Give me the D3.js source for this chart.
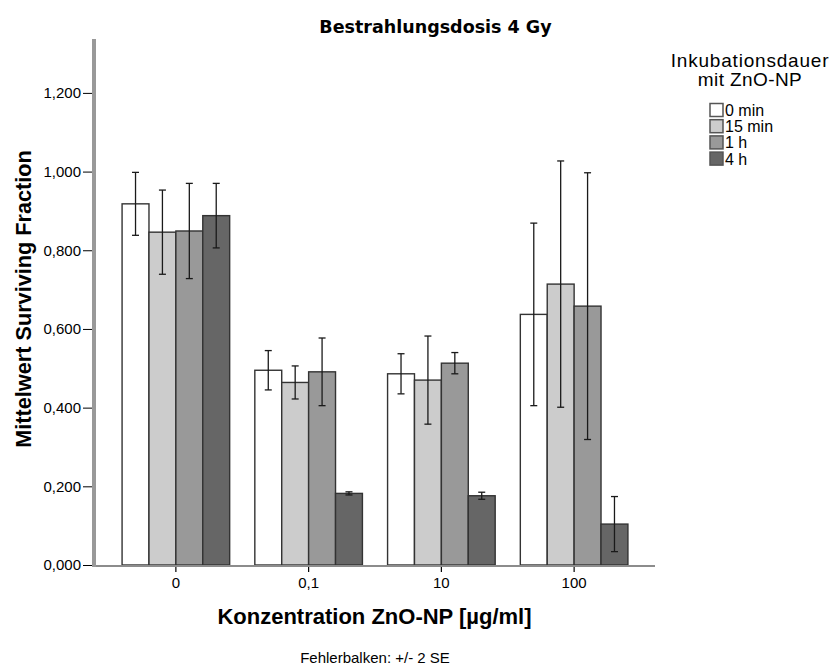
<!DOCTYPE html>
<html>
<head>
<meta charset="utf-8">
<script src="https://cdn.jsdelivr.net/npm/d3@7"></script>
<style>
  html, body { margin: 0; padding: 0; background: #ffffff; }
  svg { display: block; }
  text { font-family: "Liberation Sans", Arial, sans-serif; fill: #000; }
</style>
</head>
<body>
<svg id="chart" width="836" height="666"></svg>
<script>
// Concentration groups and incubation-time series
const categories = ["0", "0,1", "10", "100"];
const seriesNames = ["0 min", "15 min", "1 h", "4 h"];
const seriesColors = ["#ffffff", "#cccccc", "#999999", "#666666"];

// Mean surviving fraction per series (one value per concentration)
const mean0min = [0.918, 0.495, 0.486, 0.637];
const mean15min = [0.846, 0.464, 0.470, 0.714];
const mean1h = [0.849, 0.491, 0.513, 0.658];
const mean4h = [0.888, 0.182, 0.176, 0.104];

// Error bar half-widths (+/- 2 SE)
const err0min = [0.080, 0.050, 0.051, 0.232];
const err15min = [0.107, 0.042, 0.112, 0.313];
const err1h = [0.121, 0.086, 0.027, 0.339];
const err4h = [0.082, 0.004, 0.009, 0.070];

const yTicks = [0, 0.2, 0.4, 0.6, 0.8, 1.0, 1.2];

const means = [mean0min, mean15min, mean1h, mean4h];
const errs = [err0min, err15min, err1h, err4h];

const rows = [];
seriesNames.forEach((s, si) => {
  categories.forEach((c, ci) => {
    rows.push({ series: s, si, category: c, value: means[si][ci], err: errs[si][ci] });
  });
});

const svg = d3.select("#chart");

const locale = d3.formatLocale({ decimal: ",", thousands: ".", grouping: [3], currency: ["", " €"] });
const fmt = locale.format(".3f");

const axisX = 94;
const baseY = 565;

const y = d3.scaleLinear().domain([0, 1.337]).range([baseY, 39]);
const x0 = d3.scaleBand().domain(categories).range([109.5, 640.5]).paddingInner(0).paddingOuter(0);
const x1 = d3.scaleBand().domain(seriesNames).range([0, 107.6]);
const color = d3.scaleOrdinal().domain(seriesNames).range(seriesColors);

// Title
svg.append("text")
  .attr("x", 435.5).attr("y", 33)
  .attr("text-anchor", "middle")
  .style("font-family", "'DejaVu Sans', Verdana, sans-serif")
  .style("font-weight", "bold")
  .style("font-size", "17.5px")
  .text("Bestrahlungsdosis 4 Gy");

// Y axis ticks and labels
const yAxis = d3.axisLeft(y).tickValues(yTicks).tickFormat(fmt).tickSize(10).tickPadding(2);
const gy = svg.append("g").attr("transform", `translate(${axisX - 1},0)`).call(yAxis);
gy.select(".domain").remove();
gy.selectAll(".tick line").attr("stroke", "#000").attr("stroke-width", 1);
gy.selectAll(".tick text")
  .style("font-family", "'Liberation Sans', Arial, sans-serif")
  .style("font-size", "15px")
  .attr("fill", "#000");

// Bars
const groups = svg.append("g").selectAll("g")
  .data(categories)
  .join("g")
  .attr("transform", d => `translate(${x0(d) + x0.bandwidth() / 2 - 53.8},0)`);

groups.selectAll("rect")
  .data(c => rows.filter(r => r.category === c))
  .join("rect")
  .attr("x", d => x1(d.series))
  .attr("y", d => y(d.value))
  .attr("width", x1.bandwidth())
  .attr("height", d => y(0) - y(d.value))
  .attr("fill", d => color(d.series))
  .attr("stroke", "#333")
  .attr("stroke-width", 1.4);

// Error bars
const eb = groups.selectAll("g.err")
  .data(c => rows.filter(r => r.category === c))
  .join("g")
  .attr("class", "err")
  .attr("stroke", "#1a1a1a")
  .attr("stroke-width", 1.3);

eb.append("line")
  .attr("x1", d => x1(d.series) + x1.bandwidth() / 2)
  .attr("x2", d => x1(d.series) + x1.bandwidth() / 2)
  .attr("y1", d => y(d.value + d.err))
  .attr("y2", d => y(d.value - d.err));
eb.append("line")
  .attr("x1", d => x1(d.series) + x1.bandwidth() / 2 - 3.5)
  .attr("x2", d => x1(d.series) + x1.bandwidth() / 2 + 3.5)
  .attr("y1", d => y(d.value + d.err))
  .attr("y2", d => y(d.value + d.err));
eb.append("line")
  .attr("x1", d => x1(d.series) + x1.bandwidth() / 2 - 3.5)
  .attr("x2", d => x1(d.series) + x1.bandwidth() / 2 + 3.5)
  .attr("y1", d => y(d.value - d.err))
  .attr("y2", d => y(d.value - d.err));

// X axis (category ticks below baseline)
const xAxis = d3.axisBottom(x0).tickSize(6).tickPadding(5);
const gx = svg.append("g").attr("transform", `translate(0,${baseY + 1})`).call(xAxis);
gx.select(".domain").remove();
gx.selectAll(".tick line").attr("stroke", "#000").attr("stroke-width", 1.2);
gx.selectAll(".tick text")
  .style("font-family", "'Liberation Sans', Arial, sans-serif")
  .style("font-size", "15px")
  .attr("fill", "#000");

// Axis lines
svg.append("line")
  .attr("x1", axisX).attr("x2", 655)
  .attr("y1", baseY + 1).attr("y2", baseY + 1)
  .attr("stroke", "#8c8c8c").attr("stroke-width", 2);
svg.append("line")
  .attr("x1", axisX).attr("x2", axisX)
  .attr("y1", y.range()[1]).attr("y2", baseY + 2)
  .attr("stroke", "#999").attr("stroke-width", 4);

// Axis titles
svg.append("text")
  .attr("transform", "translate(31,299) rotate(-90)")
  .attr("text-anchor", "middle")
  .style("font-weight", "bold")
  .style("font-size", "21.7px")
  .text("Mittelwert Surviving Fraction");

svg.append("text")
  .attr("x", 374.5).attr("y", 624)
  .attr("text-anchor", "middle")
  .style("font-weight", "bold")
  .style("font-size", "22px")
  .text("Konzentration ZnO-NP [µg/ml]");

svg.append("text")
  .attr("x", 375).attr("y", 663)
  .attr("text-anchor", "middle")
  .style("font-size", "15px")
  .text("Fehlerbalken:  +/- 2 SE");

// Legend
const legend = svg.append("g");
legend.append("text")
  .attr("x", 750).attr("y", 67)
  .attr("text-anchor", "middle")
  .style("font-size", "19px")
  .style("letter-spacing", "0.8px")
  .text("Inkubationsdauer");
legend.append("text")
  .attr("x", 750).attr("y", 86)
  .attr("text-anchor", "middle")
  .style("font-size", "19px")
  .style("letter-spacing", "0.4px")
  .text("mit ZnO-NP");

const li = legend.selectAll("g.item")
  .data(seriesNames)
  .join("g")
  .attr("class", "item")
  .attr("transform", (d, i) => `translate(710,${103.5 + i * 16.2})`);
li.append("rect")
  .attr("width", 13).attr("height", 13)
  .attr("fill", d => color(d))
  .attr("stroke", "#555").attr("stroke-width", 1.5);
li.append("text")
  .attr("x", 15).attr("y", 12.5)
  .style("font-size", "16px")
  .text(d => d);
</script>
</body>
</html>
